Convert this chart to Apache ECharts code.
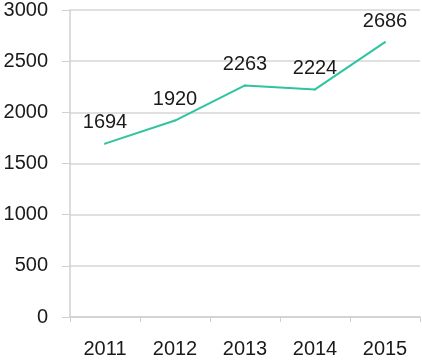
<!DOCTYPE html>
<html>
<head>
<meta charset="utf-8">
<script src="https://cdn.jsdelivr.net/npm/echarts@6/dist/echarts.min.js"></script>
<style>
  html, body { margin: 0; padding: 0; background: #fff; }
  #main { width: 422px; height: 360px; }
</style>
</head>
<body>
<div id="main"></div>
<script>
var years = ['2011', '2012', '2013', '2014', '2015'];
var values = [1694, 1920, 2263, 2224, 2686];
var yTicks = [0, 500, 1000, 1500, 2000, 2500, 3000];

var chart = echarts.init(document.getElementById('main'));

var option = {
    animation: false,
    grid: {
        left: 70,
        right: 2,
        top: 8,
        bottom: 43
    },
    xAxis: {
        type: 'category',
        data: years,
        boundaryGap: true,
        axisLine: { lineStyle: { color: '#d0d0d0', width: 1.5 } },
        axisTick: { show: true, length: 5, lineStyle: { color: '#d0d0d0' } },
        axisLabel: {
            margin: 22,
            color: '#1a1a1a',
            fontSize: 20,
            fontFamily: 'Liberation Sans, Arial, sans-serif'
        }
    },
    yAxis: {
        type: 'value',
        min: yTicks[0],
        max: yTicks[yTicks.length - 1],
        interval: 500,
        axisLine: { show: true, lineStyle: { color: '#d0d0d0', width: 1.5 } },
        axisTick: { show: true, length: 8, lineStyle: { color: '#d0d0d0' } },
        splitLine: { lineStyle: { color: '#d6d6d6', width: 1.5 } },
        axisLabel: {
            margin: 22,
            color: '#1a1a1a',
            fontSize: 20,
            fontFamily: 'Liberation Sans, Arial, sans-serif',
            formatter: function (v) { return String(v); }
        }
    },
    series: [{
        type: 'line',
        data: values,
        symbol: 'circle',
        symbolSize: 2,
        showSymbol: true,
        itemStyle: { color: '#2fc49e' },
        lineStyle: { color: '#2fc49e', width: 2 },
        label: {
            show: true,
            position: 'top',
            distance: 10,
            color: '#1a1a1a',
            fontSize: 20,
            fontFamily: 'Liberation Sans, Arial, sans-serif'
        }
    }]
};

chart.setOption(option);
</script>
</body>
</html>
